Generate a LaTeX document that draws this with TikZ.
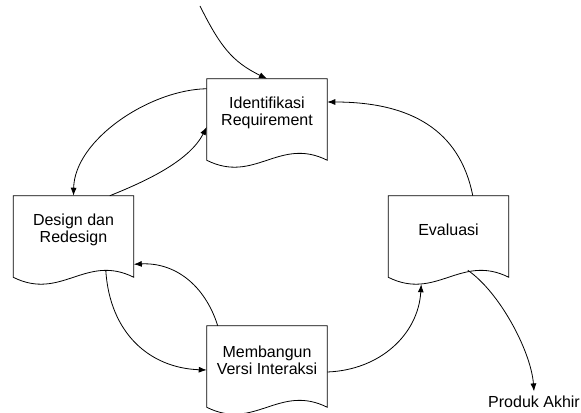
\documentclass[tikz,border=0pt]{standalone}
\usepackage{fontspec}
\setmainfont{Liberation Sans}
\usepackage{tikz}
\usetikzlibrary{arrows.meta,calc}

\tikzset{
  docbox/.style={minimum width=90pt, minimum height=51pt, inner sep=0pt, align=center,
    font=\fontsize{12}{12.75}\selectfont},
  flow/.style={black, line width=0.6pt, -{Latex[length=6pt,width=4.5pt]}},
  doc/.style={black, line width=0.6pt}
}

\begin{document}
\begin{tikzpicture}[x=0.75pt, y=-0.75pt]
\useasboundingbox (0,0) rectangle (581,413);

\node [docbox] (ident) at (267,113) {Identifikasi\\Requirement};
\node [docbox] (design) at (73.5,230) {Design dan\\Redesign};
\node [docbox] (bangun) at (267,360) {Membangun\\Versi Interaksi};
\node [docbox] (eval) at (448.5,230) {Evaluasi};
\node [font=\fontsize{12}{12.75}\selectfont, inner xsep=1pt] (produk) at (534,402) {Produk Akhir};
\coordinate (start) at (200,6);

% document outlines
\foreach \n in {ident,design,bangun,eval}
  \draw [doc] (\n.north west) -- (\n.north east) -- ($(\n.south east)+(0,13)$)
    .. controls +(-48,-24) and +(48,24) .. ($(\n.south west)+(0,13)$) -- cycle;

% arrows
\draw [flow] (start) .. controls +(20,40) and +(-35,-17) .. (ident.north);
\draw [flow] ($(ident.north west)+(0,10)$) .. controls +(-57,1) and +(1,-56) .. (design.north);
\draw [flow] ($(design.north east)+(-24,0)$) .. controls +(40,-16) and +(-17,33) .. ($(ident.west)+(0,14)$);
\draw [flow] ($(bangun.north west)+(11,0)$) .. controls +(-13,-41) and +(41,-2) .. (design.south east);
\draw [flow] ($(design.south east)+(-28,6)$) .. controls +(4,63) and +(-57,-2) .. ($(bangun.west)+(0,10)$);
\draw [flow] ($(bangun.east)+(0,12)$) .. controls +(53,-2) and +(-3,50) .. ($(eval.south west)+(33,20)$);
\draw [flow] ($(eval.north east)+(-36,0)$) .. controls +(-13,-66) and +(83,0) .. ($(ident.east)+(0,-11)$);
\draw [flow] ($(eval.south east)+(-41,6)$) .. controls +(32,22) and +(-3,-40) .. (produk.north);
\end{tikzpicture}
\end{document}
